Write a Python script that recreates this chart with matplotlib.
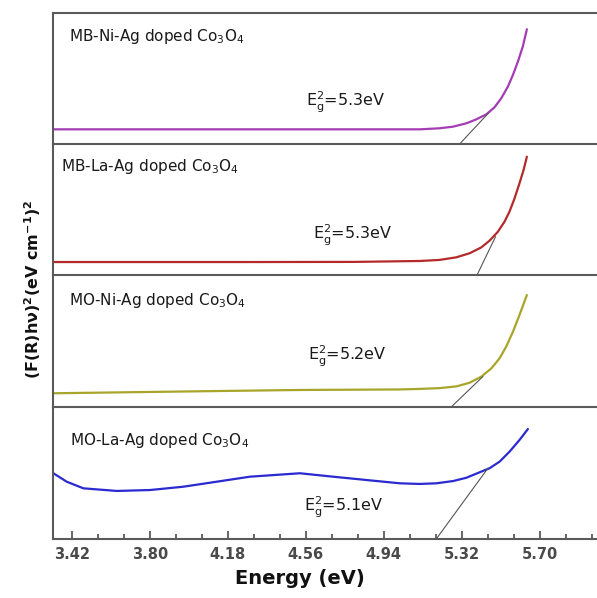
import matplotlib
matplotlib.use("Agg")
import matplotlib.pyplot as plt
import numpy as np
from matplotlib.ticker import FixedLocator, MultipleLocator

plt.rcParams['font.family'] = ['DejaVu Sans']
plt.rcParams['mathtext.fontset'] = 'dejavusans'

# ---- data (normalized intensity per panel) ----
labels = ["MB-Ni-Ag doped Co$_3$O$_4$", "MB-La-Ag doped Co$_3$O$_4$",
          "MO-Ni-Ag doped Co$_3$O$_4$", "MO-La-Ag doped Co$_3$O$_4$"]
gaps = ["5.3", "5.3", "5.2", "5.1"]
colors = ["#a43cb4", "#b42a2a", "#a8a52a", "#2a2ad0"]

e1 = [3.33, 3.80, 4.30, 4.80, 5.115, 5.212, 5.277, 5.343, 5.391, 5.440, 5.480,
      5.513, 5.545, 5.570, 5.594, 5.618, 5.638]
y1 = [0.112, 0.112, 0.112, 0.112, 0.112, 0.120, 0.132, 0.158, 0.188, 0.226, 0.280,
      0.349, 0.437, 0.527, 0.628, 0.743, 0.876]

e2 = [3.33, 3.80, 4.30, 4.80, 5.115, 5.212, 5.294, 5.359, 5.416, 5.456, 5.497,
      5.529, 5.553, 5.578, 5.602, 5.622, 5.638]
y2 = [0.099, 0.099, 0.099, 0.100, 0.107, 0.115, 0.135, 0.166, 0.211, 0.262, 0.331,
      0.407, 0.483, 0.585, 0.700, 0.802, 0.903]

e3 = [3.33, 3.80, 4.18, 4.531, 5.018, 5.115, 5.212, 5.294, 5.359, 5.416, 5.465,
      5.505, 5.537, 5.570, 5.602, 5.638]
y3 = [0.104, 0.114, 0.122, 0.129, 0.133, 0.137, 0.143, 0.156, 0.184, 0.230,
      0.293, 0.369, 0.457, 0.570, 0.697, 0.848]

e4 = [3.329, 3.394, 3.475, 3.638, 3.800, 3.962, 4.125, 4.287, 4.531, 4.693, 4.855,
      5.018, 5.115, 5.197, 5.278, 5.343, 5.407, 5.456, 5.505, 5.553, 5.602, 5.643]
y4 = [0.498, 0.434, 0.384, 0.364, 0.371, 0.396, 0.434, 0.472, 0.498, 0.472, 0.447,
      0.422, 0.417, 0.422, 0.439, 0.464, 0.505, 0.536, 0.586, 0.661, 0.750, 0.833]

# tangent lines (x-intercept point, touching point)
tan_e = [[5.310, 5.450], [5.395, 5.485], [5.269, 5.423], [5.196, 5.448]]
tan_y = [[0.0, 0.235], [0.0, 0.292], [0.0, 0.230], [0.0, 0.536]]

xticks = [3.42, 3.80, 4.18, 4.56, 4.94, 5.32, 5.70]

energies = [e1, e2, e3, e4]
values = [y1, y2, y3, y4]

# ---- layout ----
W, H = 597, 598
fig = plt.figure(figsize=(W / 100, H / 100), dpi=100)
bounds = [13, 144, 275, 407, 539]
left_px = 53
frame_col = "#5a5a5a"

lab_pos = [(0.030, 0.82), (0.015, 0.83), (0.030, 0.81), (0.032, 0.75)]
eg_pos = [(0.465, 0.32), (0.478, 0.30), (0.468, 0.38), (0.462, 0.24)]

axes = []
for i in range(4):
    top, bot = bounds[i], bounds[i + 1]
    ax = fig.add_axes([left_px / W, 1 - bot / H, 1 - left_px / W, (bot - top) / H])
    axes.append(ax)
    ax.plot(energies[i], values[i], color=colors[i], lw=1.6, solid_capstyle='round',
            solid_joinstyle='round')
    ax.plot(tan_e[i], tan_y[i], color="#555555", lw=0.8)
    ax.set_xlim(3.327, 5.98)
    ax.set_ylim(0, 1)
    ax.set_yticks([])
    ax.spines['right'].set_visible(False)
    for s in ['top', 'left', 'bottom']:
        ax.spines[s].set_color(frame_col)
        ax.spines[s].set_linewidth(1.5)
    if i < 3:
        ax.spines['bottom'].set_visible(False)
        ax.tick_params(axis='x', which='both', bottom=False, labelbottom=False)
    ax.patch.set_alpha(0)
    ax.text(lab_pos[i][0], lab_pos[i][1], labels[i], transform=ax.transAxes,
            fontsize=11, color="#1a1a1a", va='center', ha='left')
    ax.text(eg_pos[i][0], eg_pos[i][1], r"$\mathregular{E_g^2}$=" + gaps[i] + "eV",
            transform=ax.transAxes, fontsize=11.5, color="#1a1a1a", va='center', ha='left')

axb = axes[-1]
axb.xaxis.set_major_locator(FixedLocator(xticks))
axb.xaxis.set_minor_locator(MultipleLocator(0.38 / 3, offset=3.42))
axb.set_xticks(xticks)
axb.set_xticklabels([f"{v:.2f}" for v in xticks])
axb.tick_params(axis='x', which='major', direction='in', length=6, width=1.3,
                color=frame_col, labelsize=10.5, labelcolor="#4a4a4a", pad=6)
axb.tick_params(axis='x', which='minor', direction='in', length=3.5, width=1.3,
                color=frame_col)
for lbl in axb.get_xticklabels():
    lbl.set_fontweight('bold')

fig.text(300 / W, 1 - 578 / H, "Energy (eV)", fontsize=14, fontweight='bold',
         ha='center', va='center', color="#111111")
fig.text(33 / W, 1 - 289 / H,
         r"(F(R)h$\mathbf{\nu}$)$^{\mathbf{2}}$(eV cm$^{\mathbf{-1}}$)$^{\mathbf{2}}$",
         rotation=90, fontsize=11.5, fontweight='bold', ha='center', va='center',
         color="#111111")

fig.savefig("out.png", dpi=100)
